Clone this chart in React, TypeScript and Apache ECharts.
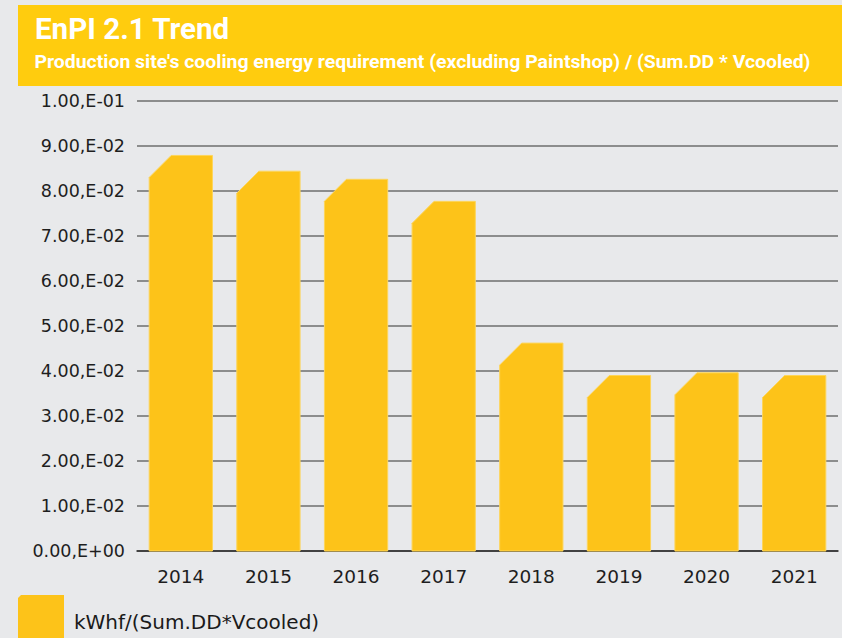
import React, { useEffect, useRef } from "react";
import * as echarts from "echarts";

const categories = ["2014", "2015", "2016", "2017", "2018", "2019", "2020", "2021"];
const values = [0.0879, 0.0844, 0.0826, 0.0777, 0.0462, 0.039, 0.0396, 0.039];
const tickLabels = [
  "0.00,E+00", "1.00,E-02", "2.00,E-02", "3.00,E-02", "4.00,E-02", "5.00,E-02",
  "6.00,E-02", "7.00,E-02", "8.00,E-02", "9.00,E-02", "1.00,E-01",
];
const seriesName = "kWhf/(Sum.DD*Vcooled)";
const title = "EnPI 2.1 Trend";
const subtitle = "Production site's cooling energy requirement (excluding Paintshop) / (Sum.DD * Vcooled)";

const BAR = "#FDC319";
const HEADER = "#FFCC0E";
const TITLE_FONT = "bold 29px Roboto, 'Noto Sans', sans-serif";
const SUB_FONT = "bold 18px Roboto, 'Noto Sans', sans-serif";

function measure(text: string, font: string): number {
  const c = document.createElement("canvas").getContext("2d")!;
  c.font = font;
  return c.measureText(text).width;
}

export default function App() {
  const ref = useRef<HTMLDivElement>(null);
  useEffect(() => {
    const chart = echarts.init(ref.current!, null, { renderer: "svg" });
    const titleScale = 195 / measure(title, TITLE_FONT);
    const subScale = 776 / measure(subtitle, SUB_FONT);
    chart.setOption({
      animation: false,
      backgroundColor: "#E8E9EB",
      graphic: [
        { type: "rect", left: 18, top: 5, shape: { width: 824, height: 81 }, style: { fill: HEADER }, z: 0 },
        {
          type: "text", x: 35, y: 29, scaleX: titleScale,
          style: { text: title, fill: "#fff", font: TITLE_FONT, verticalAlign: "middle", align: "left" },
        },
        {
          type: "text", x: 34.5, y: 62, scaleX: subScale,
          style: { text: subtitle, fill: "#fff", font: SUB_FONT, verticalAlign: "middle", align: "left" },
        },
      ],
      legend: {
        left: 18, top: 595, padding: 0, itemWidth: 46, itemHeight: 54, itemGap: 10,
        data: [{ name: seriesName, icon: "path://M3,0 L46,0 L46,54 L0,54 L0,3 Z" }],
        textStyle: { fontSize: 20, color: "#1a1a1a", fontFamily: "DejaVu Sans", padding: [0, 0, 0, 5] },
      },
      grid: { left: 137, right: 4, top: 101, bottom: 87 },
      xAxis: {
        type: "category",
        data: categories,
        axisTick: { show: false },
        axisLine: { show: true, lineStyle: { color: "#2a2a2a", width: 1.5 } },
        axisLabel: { fontSize: 18.5, color: "#1e1e1e", margin: 16, fontFamily: "DejaVu Sans" },
      },
      yAxis: {
        type: "value",
        min: 0, max: 0.1, interval: 0.01,
        axisLine: { show: false },
        axisTick: { show: false },
        splitLine: { lineStyle: { color: "#6e6e6e", width: 1.5 } },
        axisLabel: {
          fontSize: 17.5, color: "#1e1e1e", margin: 12, fontFamily: "DejaVu Sans",
          formatter: (_v: number, i: number) => tickLabels[i],
        },
      },
      series: [
        {
          type: "custom",
          name: seriesName,
          itemStyle: { color: BAR },
          encode: { x: 0, y: 1 },
          data: values.map((v, i) => [i, v]),
          renderItem: (params: any, api: any) => {
            const xi = api.value(0);
            const v = api.value(1);
            const top = api.coord([xi, v]);
            const base = api.coord([xi, 0]);
            const bw = api.size([1, 0])[0] * 0.722;
            const l = top[0] - bw / 2;
            const r = top[0] + bw / 2;
            const c = 22;
            return {
              type: "polygon",
              shape: {
                points: [
                  [l, base[1]],
                  [l, top[1] + c],
                  [l + c, top[1]],
                  [r, top[1]],
                  [r, base[1]],
                ],
              },
              style: { fill: BAR, stroke: "#FDD55A", lineWidth: 1 },
            };
          },
          z: 3,
        },
      ],
    });
    return () => chart.dispose();
  }, []);
  return <div ref={ref} style={{ width: 842, height: 638, position: "fixed", left: 0, top: 0 }} />;
}
